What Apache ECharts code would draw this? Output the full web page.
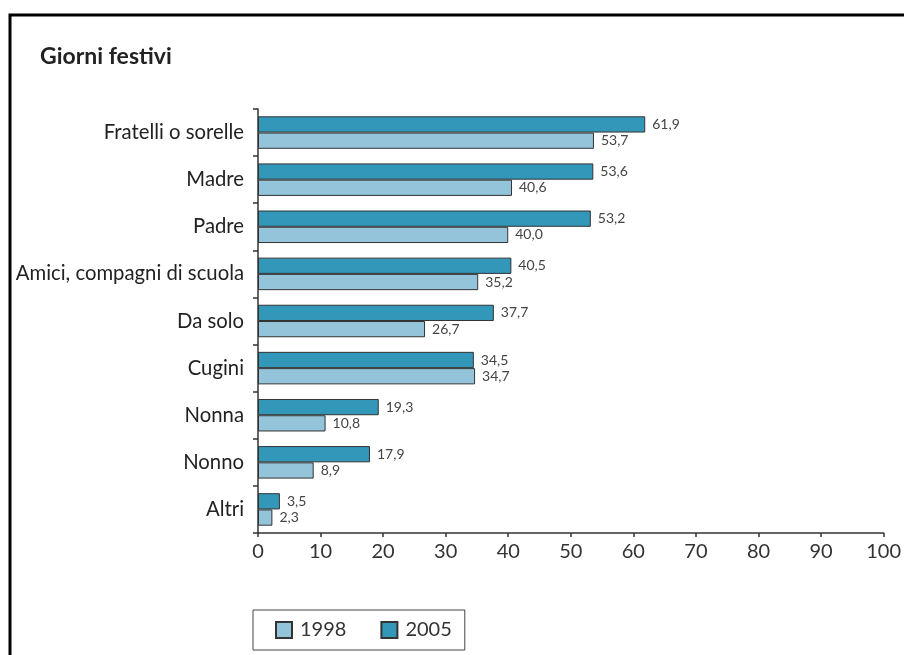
<!DOCTYPE html>
<html><head><meta charset="utf-8">
<script src="https://cdn.jsdelivr.net/npm/echarts@6/dist/echarts.min.js"></script>
<style>html,body{margin:0;padding:0;background:#fff}#c{width:904px;height:655px}</style>
</head><body><div id="c"></div>
<script>
const categories = ["Fratelli o sorelle","Madre","Padre","Amici, compagni di scuola","Da solo","Cugini","Nonna","Nonno","Altri"];
const values2005 = [61.9,53.6,53.2,40.5,37.7,34.5,19.3,17.9,3.5];
const values1998 = [53.7,40.6,40.0,35.2,26.7,34.7,10.8,8.9,2.3];
const xTicks = [0,10,20,30,40,50,60,70,80,90,100];
const FONT = 'Lato, "Open Sans", sans-serif';
const chart = echarts.init(document.getElementById('c'), null, {renderer:'canvas'});
const fmt = p => p.value.toFixed(1).replace('.', ',');
chart.setOption({
  animation:false,
  backgroundColor:'#fff',
  title:{text:'Giorni festivi', left:40, top:45, padding:0, textStyle:{fontFamily:FONT, fontSize:23, fontWeight:'bold', color:'#222'}},
  graphic:[{type:'rect', shape:{x:10, y:15, width:2000, height:2000}, style:{fill:'none', stroke:'#000', lineWidth:3}, silent:true}],
  grid:{left:258, right:20, top:109, bottom:122, containLabel:false},
  xAxis:{type:'value', min:0, max:100, interval:10,
    axisLine:{show:true, lineStyle:{color:'#333', width:1.5}},
    axisTick:{show:true, length:4, lineStyle:{color:'#333', width:1.5}},
    splitLine:{show:false},
    axisLabel:{fontFamily:FONT, fontSize:20, color:'#333', margin:9,
      formatter: v => xTicks.includes(v) ? String(v) : ''}},
  yAxis:{type:'category', data:categories, inverse:true,
    axisLine:{show:true, lineStyle:{color:'#333', width:1.5}},
    axisTick:{show:true, length:5, lineStyle:{color:'#333', width:1.5}},
    axisLabel:{fontFamily:FONT, fontSize:20.3, color:'#222', margin:14}},
  legend:{data:['1998','2005'], icon:'rect', left:253, top:610,
    orient:'horizontal', borderColor:'#444', borderWidth:1, padding:[10,13,10,22],
    itemWidth:16, itemHeight:16, itemGap:34,
    textStyle:{fontFamily:FONT, fontSize:20, color:'#333', padding:[0,0,0,3]}},
  series:[
    {name:'2005', type:'bar', data:values2005, barCategoryGap:'31%', barGap:'0%',
     itemStyle:{color:'#3397b9', borderColor:'#333', borderWidth:1},
     label:{show:true, position:'right', distance:7, formatter:fmt, fontFamily:FONT, fontSize:14, color:'#444'}},
    {name:'1998', type:'bar', data:values1998, barCategoryGap:'31%', barGap:'0%',
     itemStyle:{color:'#93c4da', borderColor:'#333', borderWidth:1},
     label:{show:true, position:'right', distance:7, formatter:fmt, fontFamily:FONT, fontSize:14, color:'#444'}}
  ]
});
</script></body></html>
